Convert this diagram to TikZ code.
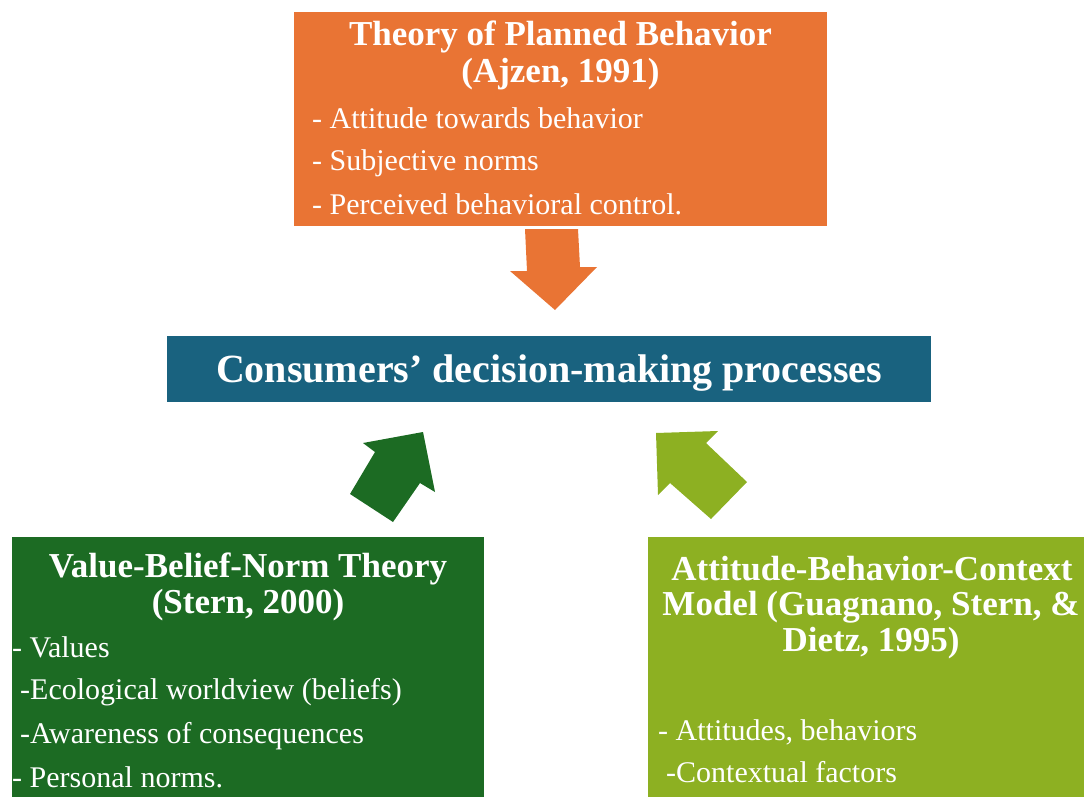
\documentclass[tikz,border=0pt]{standalone}
\usepackage{fontspec}
\setmainfont{Liberation Serif}
\definecolor{tpbcol}{HTML}{E97434}
\definecolor{cdmcol}{HTML}{19627F}
\definecolor{vbncol}{HTML}{1C6B23}
\definecolor{abccol}{HTML}{8DB022}
\tikzset{
  panel/.style={draw=none, inner sep=0pt, outer sep=0pt, rectangle},
  title/.style={text=white, inner sep=0pt, anchor=base, font=\fontsize{35}{37}\selectfont\bfseries},
  item/.style={text=white, inner sep=0pt, anchor=base west, font=\fontsize{30}{36}\selectfont},
  blockarrow/.style={draw=none}
}
\begin{document}
\begin{tikzpicture}[x=1pt,y=-1pt]
\useasboundingbox (0,0) rectangle (1084,797);
\clip (0,0) rectangle (1084,797);

% panels
\node[panel, fill=tpbcol, minimum width=533pt, minimum height=214pt] (tpb) at (560.5,119) {};
\node[panel, fill=cdmcol, minimum width=764pt, minimum height=66pt] (cdm) at (549,369) {};
\node[panel, fill=vbncol, minimum width=472pt, minimum height=273pt] (vbn) at (248,673.5) {};
\node[panel, fill=abccol, minimum width=446pt, minimum height=273pt] (abc) at (871,673.5) {};

% Theory of Planned Behavior
\node[title] (tpbt1) at (560.5,46) {Theory of Planned Behavior};
\node[title] (tpbt2) at (560.5,83) {(Ajzen, 1991)};
\node[item] (tpbi1) at (312,129) {- Attitude towards behavior};
\node[item] (tpbi2) at (312,171) {- Subjective norms};
\node[item] (tpbi3) at (312,214) {- Perceived behavioral control.};

% central box
\node[text=white, inner sep=0pt, anchor=base, font=\fontsize{40}{44}\selectfont\bfseries] (cdmt) at (549,382) {Consumers’ decision-making processes};

% Value-Belief-Norm Theory
\node[title] (vbnt1) at (248,577) {Value-Belief-Norm Theory};
\node[title] (vbnt2) at (248,613) {(Stern, 2000)};
\node[item] (vbni1) at (12,657) {- Values};
\node[item] (vbni2) at (20,699) {-Ecological worldview (beliefs)};
\node[item] (vbni3) at (20,743) {-Awareness of consequences};
\node[item] (vbni4) at (12,787) {- Personal norms.};

% Attitude-Behavior-Context Model
\node[title] (abct1) at (872,580) {Attitude-Behavior-Context};
\node[title] (abct2) at (871,615) {Model (Guagnano, Stern, \&};
\node[title] (abct3) at (871,651) {Dietz, 1995)};
\node[item] (abci1) at (658,740) {- Attitudes, behaviors};
\node[item] (abci2) at (666,782) {-Contextual factors};

% block arrows
\fill[tpbcol] (525,229) -- (578,229) -- (580,267) -- (597,267) -- (555,310)
  -- (510,271) -- (527,271) -- cycle;
\fill[vbncol] (423,432) -- (435,492) -- (420,483) -- (393,522) -- (350,494)
  -- (375,452) -- (363,443) -- cycle;
\fill[abccol] (656,433) -- (718,431) -- (706,443) -- (747,482) -- (711,519)
  -- (670,483) -- (658,495) -- cycle;
\end{tikzpicture}
\end{document}
